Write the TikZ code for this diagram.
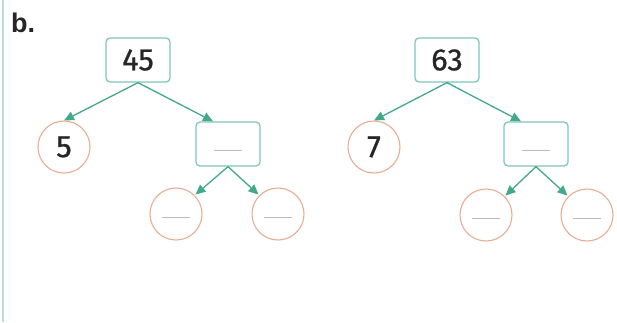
\documentclass[tikz,border=0pt]{standalone}
\usepackage{fontspec}
\setmainfont{Fira Sans}
\newfontfamily\numfont{Fira Sans}[FakeBold=0.7]
\newfontfamily\labelfont{Liberation Sans}
\usetikzlibrary{arrows.meta,calc}
\definecolor{boxedge}{HTML}{82C6C0}
\definecolor{arrowc}{HTML}{45A88A}
\definecolor{circedge}{HTML}{E8AD94}
\definecolor{blankc}{HTML}{B4BABA}
\definecolor{sidebar}{HTML}{B9DDE6}
\definecolor{numtext}{HTML}{262626}
\begin{document}
\begin{tikzpicture}[x=1pt,y=-1pt,
  numbox/.style={draw=boxedge, line width=1.3pt, rounded corners=4pt, minimum width=64pt, minimum height=44pt, inner sep=0pt, font=\numfont\fontsize{31}{33}\selectfont, text=numtext},
  numcirc/.style={circle, draw=circedge, line width=1.1pt, minimum size=52pt, inner sep=0pt, font=\numfont\fontsize{31}{33}\selectfont, text=numtext},
  link/.style={draw=arrowc, line width=1.3pt, -{Triangle[length=10pt,width=9pt]}},
  blank/.style={draw=blankc, line width=1pt}
]
\useasboundingbox (0,0) rectangle (617,322);
\fill[white] (0,0) rectangle (617,322);
\draw[sidebar, line width=2pt] (2.5,0) -- (2.5,322);
\node[anchor=base west, font=\labelfont\bfseries\fontsize{27}{29}\selectfont, text=numtext, inner sep=0pt] (lbl) at (11,32) {b.};

% tree 1
\node[numbox] (t1) at (138,60) {45};
\node[numcirc] (c5) at (64,147) {5};
\node[numbox] (b1) at (228,144) {};
\node[numcirc] (c1a) at (176,214) {};
\node[numcirc] (c1b) at (278,214) {};
\draw[link] (t1.south) -- (c5.north);
\draw[link] (t1.south) -- ($(b1.north)+(-15,0)$);
\draw[link, shorten >=1pt] (b1.south) -- (c1a.45);
\draw[link, shorten >=1pt] (b1.south) -- (c1b.135);
\draw[blank] ($(b1.center)+(-14,6.5)$) -- ++(28,0);
\draw[blank] ($(c1a.center)+(-14,3)$) -- ++(28,0);
\draw[blank] ($(c1b.center)+(-14,3)$) -- ++(28,0);

% tree 2
\node[numbox] (t2) at (447,60) {63};
\node[numcirc] (c7) at (374,147) {7};
\node[numbox] (b2) at (536,144) {};
\node[numcirc] (c2a) at (486,215) {};
\node[numcirc] (c2b) at (587,215) {};
\draw[link] (t2.south) -- (c7.north);
\draw[link] (t2.south) -- ($(b2.north)+(-15,0)$);
\draw[link, shorten >=1pt] (b2.south) -- (c2a.45);
\draw[link, shorten >=1pt] (b2.south) -- (c2b.135);
\draw[blank] ($(b2.center)+(-14,6.5)$) -- ++(28,0);
\draw[blank] ($(c2a.center)+(-14,3)$) -- ++(28,0);
\draw[blank] ($(c2b.center)+(-14,3)$) -- ++(28,0);
\end{tikzpicture}
\end{document}
